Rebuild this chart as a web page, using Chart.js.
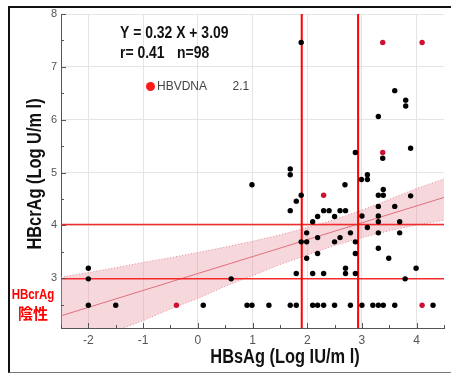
<!DOCTYPE html>
<html>
<head>
<meta charset="utf-8">
<script src="https://cdn.jsdelivr.net/npm/chart.js@4.4.1/dist/chart.umd.min.js"></script>
<style>
  html, body { margin: 0; padding: 0; background: #fff; }
  #wrap { position: relative; width: 451px; height: 374px; overflow: hidden; }
  #chart { position: absolute; left: 0; top: 0; }
  #frame {
    position: absolute; left: 8px; top: 6px; width: 460px; height: 367px;
    border-left: 2px solid #111; border-top: 2px solid #111; border-bottom: 1px solid #777;
    box-sizing: border-box; pointer-events: none;
  }
</style>
</head>
<body>
<div id="wrap"><canvas id="chart" width="451" height="374"></canvas><div id="frame"></div></div>
<script>
// axis limits and tick labels
const xMin = -2.5, xMax = 4.5;
const yMin = 2.06, yMax = 8;
const xTicks = [-2, -1, 0, 1, 2, 3, 4];
const yTicks = [3, 4, 5, 6, 7, 8];

// HBsAg (x) / HBcrAg (y), log values
const blackX = [-2, -2, -2, -1.5, 0.1, 0.61,
  0.9, 0.99, 1.3, 1.69, 1.8, 2.1, 2.19, 2.3, 2.5, 2.79, 3.0, 3.2, 3.3, 3.39, 3.6, 4.3,
  1.89,
  3.6, 3.8, 3.8, 3.3, 3.89, 2.88, 3.38,
  0.99, 1.69, 1.69, 2.69, 2.99, 3.1, 3.1,
  1.89, 1.8, 1.69,
  2.1, 2.19, 2.3, 2.4, 2.5, 2.6, 2.7,
  3.3, 3.39, 3.39,
  3.0, 3.1, 3.3, 3.3, 3.3, 3.3, 3.3, 3.6, 3.69, 3.69, 3.49, 3.89, 3.99, 3.79,
  1.89, 1.99, 1.99, 1.99, 2.19, 2.19, 2.5, 2.6, 2.79, 2.88, 2.88, 2.7, 2.7, 1.8, 2.1, 2.3, 2.88];
const blackY = [3.19, 2.99, 2.49, 2.49, 2.49, 2.99,
  2.49, 2.49, 2.49, 2.49, 2.49, 2.49, 2.49, 2.49, 2.49, 2.49, 2.49, 2.49, 2.49, 2.49, 2.49, 2.49,
  7.46,
  6.55, 6.37, 6.26, 6.06, 5.46, 5.38, 5.27,
  4.77, 5.07, 4.96, 4.77, 4.87, 4.96, 4.87,
  4.57, 4.46, 4.28,
  4.07, 4.17, 4.28, 4.28, 4.17, 4.28, 4.28,
  4.57, 4.57, 4.68,
  4.18, 3.96, 4.36, 4.18, 4.07, 3.86, 3.57, 4.36, 4.07, 3.86, 3.38, 4.56, 3.19, 2.99,
  3.69, 3.69, 3.86, 3.38, 3.77, 3.47, 3.69, 3.77, 3.86, 3.69, 3.47, 3.19, 3.09, 3.09, 3.09, 3.09, 3.09];

// HBV DNA marked points
const redX = [-0.39, 4.1, 3.38, 4.1, 3.38, 2.3];
const redY = [2.49, 2.49, 7.46, 7.46, 5.38, 4.57];

// regression Y = 0.32 X + 3.09 and its confidence band
const regSlope = 0.32, regIntercept = 3.09;
const bandX     = [-2.5, -2, -1.5, -1, -0.5, 0, 0.5, 1, 1.5, 2, 2.5, 3, 3.5, 4, 4.5];
const bandUpper = [3.02, 3.11, 3.20, 3.30, 3.39, 3.49, 3.59, 3.70, 3.82, 3.96, 4.11, 4.29, 4.49, 4.70, 4.88];
const bandLower = [1.55, 1.78, 2.00, 2.20, 2.42, 2.62, 2.85, 3.05, 3.26, 3.44, 3.62, 3.77, 3.90, 4.01, 4.10];

// cut-off lines
const cutX = [1.9, 2.93];
const cutY = [2.99, 4.02];

const SANS = "'Liberation Sans', Arial, sans-serif";

const pts = (xs, ys) => xs.map((v, i) => ({x: v, y: ys[i]}));

let datasets = [
  {label: 'HBVDNA', data: pts(redX, redY), backgroundColor: '#cc1133', borderWidth: 0, pointRadius: 2.7, order: 0},
  {label: 'HBcrAg', data: pts(blackX, blackY), backgroundColor: '#000', borderWidth: 0, pointRadius: 2.7, order: 0}
];
cutX.forEach(c => datasets.push({
  type: 'line', data: [{x: c, y: yMin}, {x: c, y: yMax}],
  borderColor: '#ff0000', borderWidth: 2, pointRadius: 0, order: 1
}));
cutY.forEach(c => datasets.push({
  type: 'line', data: [{x: xMin, y: c}, {x: xMax, y: c}],
  borderColor: '#f52a2a', borderWidth: 1.5, pointRadius: 0, order: 1
}));
datasets.push({
  type: 'line',
  data: [xMin, xMax].map(v => ({x: v, y: regSlope * v + regIntercept})),
  borderColor: '#e0707c', borderWidth: 1, pointRadius: 0, order: 2
});
datasets.push({
  type: 'line', data: pts(bandX, bandUpper), borderColor: '#e58a96', borderWidth: 1,
  borderDash: [1, 2], pointRadius: 0, fill: '+1', backgroundColor: 'rgba(232,150,162,0.38)', order: 3
});
datasets.push({
  type: 'line', data: pts(bandX, bandLower), borderColor: '#e58a96', borderWidth: 1,
  borderDash: [1, 2], pointRadius: 0, fill: false, order: 3
});

// condensed-looking text: squeeze the font horizontally
function narrowText(ctx, text, x, y, font, align, rot) {
  ctx.save();
  ctx.translate(x, y);
  if (rot) ctx.rotate(rot);
  ctx.scale(0.82, 1);
  ctx.font = font;
  ctx.textAlign = align;
  ctx.fillText(text, 0, 0);
  ctx.restore();
}

const extras = {
  id: 'extras',
  afterDraw(chart) {
    const {ctx, chartArea: a, scales: {x, y}} = chart;
    ctx.save();
    // small inside ticks, half steps
    ctx.strokeStyle = '#555';
    ctx.lineWidth = 1;
    ctx.beginPath();
    for (let v = xMin; v <= xMax; v += 0.5) {
      const px = Math.round(x.getPixelForValue(v)) + 0.5;
      const len = Number.isInteger(v) ? 5 : 3;
      ctx.moveTo(px, a.bottom); ctx.lineTo(px, a.bottom - len);
    }
    for (let v = 2.5; v <= yMax; v += 0.5) {
      const py = Math.round(y.getPixelForValue(v)) + 0.5;
      const len = Number.isInteger(v) ? 5 : 3;
      ctx.moveTo(a.left, py); ctx.lineTo(a.left + len, py);
    }
    ctx.stroke();

    // regression text
    ctx.fillStyle = '#111';
    ctx.textBaseline = 'alphabetic';
    narrowText(ctx, 'Y = 0.32 X + 3.09', 120, 38, 'bold 17px ' + SANS, 'left');
    narrowText(ctx, 'r= 0.41', 120, 58, 'bold 17px ' + SANS, 'left');
    narrowText(ctx, 'n=98', 177, 58, 'bold 17px ' + SANS, 'left');

    // legend
    ctx.fillStyle = '#ff1a1a';
    ctx.beginPath();
    ctx.arc(150.5, 86.5, 4.5, 0, Math.PI * 2);
    ctx.fill();
    ctx.fillStyle = '#444';
    ctx.font = '12px ' + SANS;
    ctx.textAlign = 'left';
    ctx.textBaseline = 'middle';
    ctx.fillText('HBVDNA', 157, 87);
    ctx.fillText('2.1', 232.5, 87);

    // negative label
    ctx.fillStyle = '#ff0000';
    narrowText(ctx, 'HBcrAg', 33, 295, 'bold 14px ' + SANS, 'center');
    ctx.font = "bold 15px 'Noto Sans CJK JP', sans-serif";
    ctx.textAlign = 'center';
    ctx.fillText('陰性', 33, 313);

    // axis titles
    ctx.fillStyle = '#111';
    narrowText(ctx, 'HBsAg (Log IU/m l)', 285, 357, 'bold 20px ' + SANS, 'center');
    narrowText(ctx, 'HBcrAg (Log U/m l)', 35, 174, 'bold 20px ' + SANS, 'center', -Math.PI / 2);
    ctx.restore();
  }
};

new Chart(document.getElementById('chart'), {
  type: 'scatter',
  data: {datasets: datasets},
  options: {
    responsive: false,
    animation: false,
    layout: {padding: {left: 0, right: 7, top: 14, bottom: 0}},
    plugins: {legend: {display: false}, tooltip: {enabled: false}},
    scales: {
      x: {
        type: 'linear', min: xMin, max: xMax,
        afterBuildTicks: s => { s.ticks = xTicks.map(v => ({value: v})); },
        ticks: {color: '#555', padding: 5, font: {size: 12, family: SANS}},
        grid: {color: '#e4e4e4', drawTicks: false},
        border: {color: '#555'},
        afterFit: s => { s.height = 46; }
      },
      y: {
        min: yMin, max: yMax,
        afterBuildTicks: s => { s.ticks = yTicks.map(v => ({value: v})); },
        ticks: {color: '#555', padding: 4, font: {size: 11, family: SANS}},
        grid: {color: '#e4e4e4', drawTicks: false},
        border: {color: '#555'},
        afterFit: s => { s.width = 61; }
      }
    }
  },
  plugins: [extras]
});
</script>
</body>
</html>
